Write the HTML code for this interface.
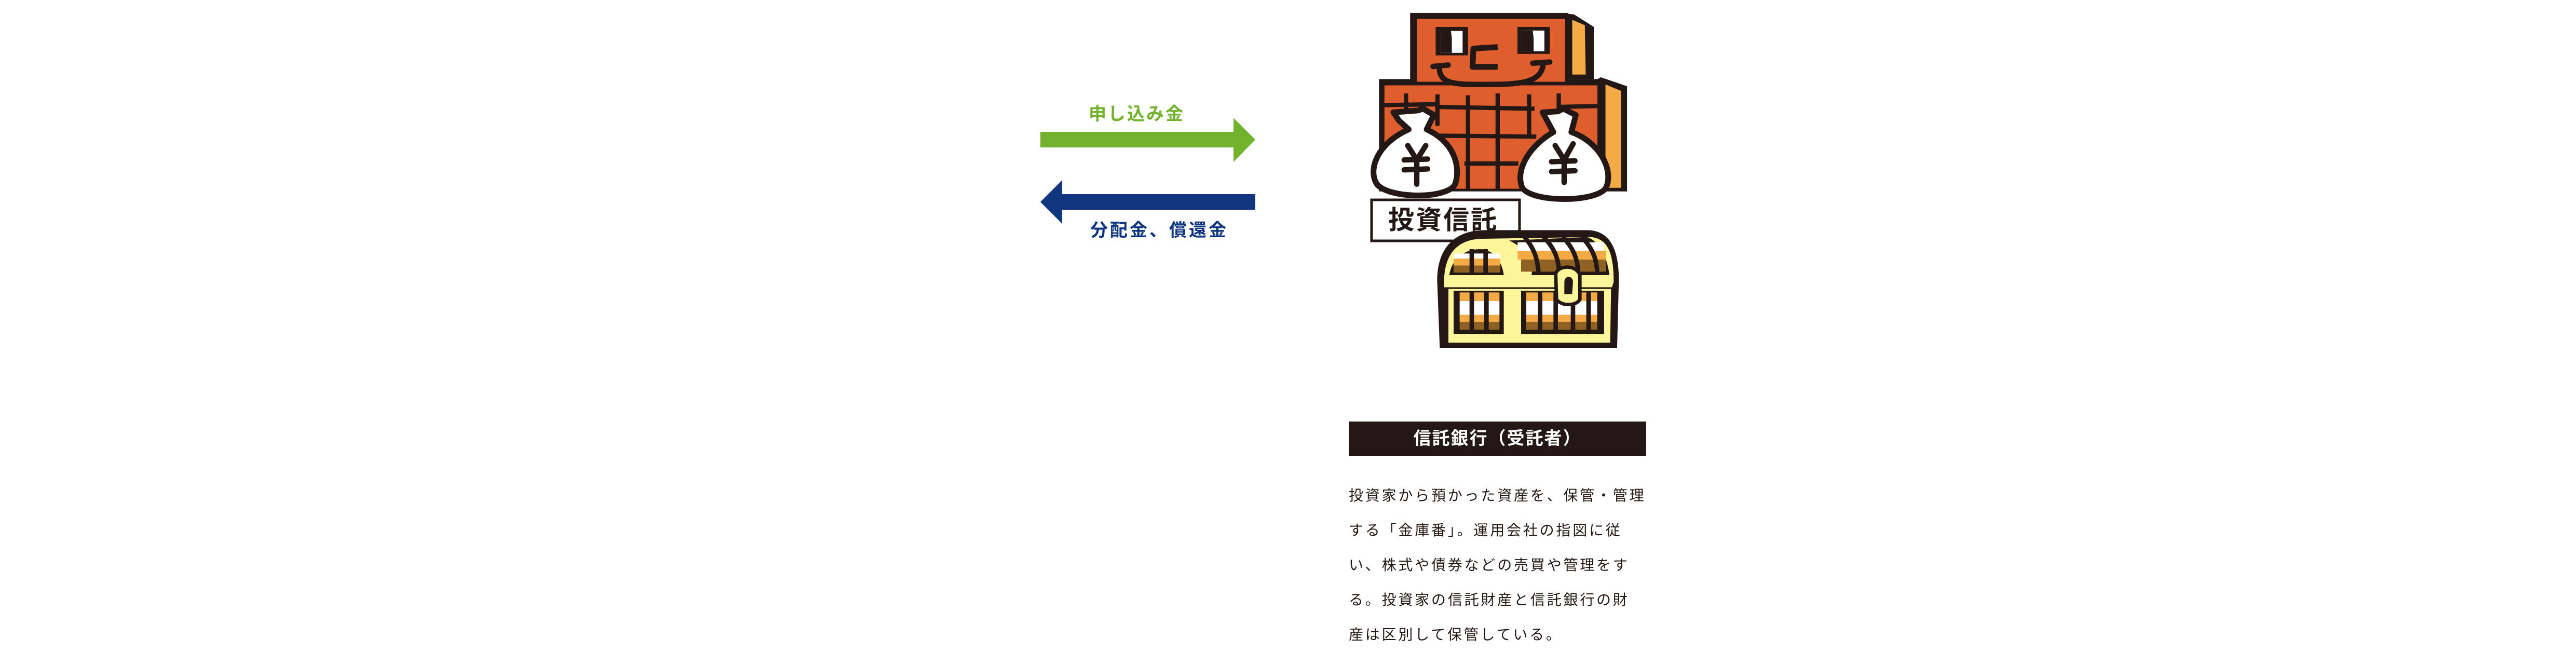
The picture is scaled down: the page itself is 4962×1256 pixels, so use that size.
<!DOCTYPE html>
<html><head><meta charset="utf-8"><style>
html,body{margin:0;padding:0;background:#fff;}
body{width:4962px;height:1232px;position:relative;overflow:hidden;font-family:"Liberation Sans","Noto Sans CJK JP",sans-serif;}
.t{position:absolute;white-space:nowrap;line-height:1;}
</style></head><body>
<svg width="4962" height="1232" style="position:absolute;left:0;top:0">
<polygon points="2004,254 2376,254 2376,227 2418,269 2376,312 2376,284 2004,284" fill="#72b22d"/>
<polygon points="2418,374 2046,374 2046,347 2004,389 2046,431 2046,404 2418,404" fill="#10367f"/>
<g transform="translate(2620,0) scale(0.3462)" stroke-linejoin="round">
<path d="M1140,75 L1190,80 L1300,150 L1300,440 L1140,440Z" fill="#231815"/>
<path d="M1180,110 L1250,140 L1255,415 L1180,415Z" fill="#f4aa45"/>
<path d="M1320,440 L1340,430 L1485,480 L1485,1065 L1320,1065Z" fill="#231815"/>
<path d="M1365,470 L1450,505 L1450,1045 L1365,1045Z" fill="#f4aa45"/>
<rect x="278" y="72" width="880" height="380" fill="#231815"/>
<rect x="105" y="440" width="1235" height="625" fill="#231815"/>
<rect x="315" y="105" width="825" height="350" fill="#df5e2e"/>
<rect x="135" y="475" width="1185" height="575" fill="#df5e2e"/>
<rect x="420" y="150" width="180" height="158" fill="#231815"/>
<rect x="445" y="172" width="125" height="122" fill="#fff"/>
<path d="M445,172 L505,172 L510,210 L510,294 L445,294Z" fill="#231815"/>
<rect x="875" y="150" width="180" height="150" fill="#231815"/>
<rect x="900" y="170" width="125" height="115" fill="#fff"/>
<path d="M900,170 L960,170 L965,210 L965,285 L900,285Z" fill="#231815"/>
<path d="M765,262 L630,270 L625,372 L765,372" fill="none" stroke="#231815" stroke-width="32"/>
<path d="M405,370 L490,362 M440,370 C440,470 520,470 700,470 C900,470 1010,460 1020,350 M960,352 L1055,345" fill="none" stroke="#231815" stroke-width="30" stroke-linecap="round"/>
<g stroke="#231815" stroke-width="24" fill="none">
<path d="M135,585 L420,580 M420,595 L970,605 M1100,595 L1320,590 M420,755 L980,760 M580,910 L880,910"/>
<path d="M255,520 L255,610 M430,525 L430,700 M600,530 L600,1050 M765,520 L765,1050 M940,525 L940,760 M1105,520 L1105,610"/>
</g>
<g fill="#fff" stroke="#231815" stroke-width="32">
<path d="M185,625 L320,615 L350,605 L410,640 L370,720 C520,790 560,920 530,1020 C500,1110 150,1110 90,1020 C40,930 110,790 270,720 L215,670Z"/>
<path d="M1015,625 L1100,620 L1130,605 L1200,640 L1175,735 C1330,790 1410,940 1370,1040 C1330,1130 940,1130 900,1040 C860,930 960,800 1075,735Z"/>
</g>
<g stroke="#231815" stroke-width="30" fill="none" stroke-linecap="round">
<path d="M265,810 L315,890 L365,810 M315,890 L315,1025 M245,890 L375,885 M245,945 L375,940"/>
<path d="M1085,810 L1135,890 L1185,800 M1135,890 L1135,1015 M1065,900 L1195,895 M1065,955 L1195,950"/>
</g>
</g>
<rect x="2642" y="385" width="285" height="79" fill="#fff" stroke="#231815" stroke-width="5"/>
<g transform="translate(2750,430) scale(0.3333)">
<path d="M55,330 C55,140 160,40 330,40 L920,40 C1060,40 1105,160 1105,330 L1095,720 L70,720Z" fill="#231815"/>
<path d="M95,340 C95,170 180,90 320,90 L930,80 C1050,80 1075,190 1075,340 L1065,370 L95,370Z" fill="#fdf59a"/>
<path d="M120,380 L1060,380 L1055,690 L120,690Z" fill="#fdf59a"/>
<path d="M470,100 C540,130 620,200 600,300 L1050,300 C1040,200 990,100 920,80Z" fill="#231815"/>
<path d="M125,300 C140,200 220,150 300,150 C380,150 430,220 440,300Z" fill="#231815"/>
<g>
<rect x="150" y="390" width="290" height="250" fill="#231815"/>
<rect x="540" y="390" width="480" height="250" fill="#231815"/>
<rect x="185" y="400" width="230" height="50" fill="#f4aa45"/><rect x="185" y="450" width="230" height="80" fill="#fff"/><rect x="185" y="530" width="230" height="40" fill="#f4aa45"/><rect x="185" y="570" width="230" height="45" fill="#8f6224"/>
<rect x="570" y="400" width="410" height="50" fill="#f4aa45"/><rect x="570" y="450" width="410" height="80" fill="#fff"/><rect x="570" y="530" width="410" height="40" fill="#f4aa45"/><rect x="570" y="570" width="410" height="45" fill="#8f6224"/>
<rect x="150" y="175" width="270" height="30" fill="#fff"/><rect x="150" y="205" width="270" height="40" fill="#f4aa45"/><rect x="150" y="245" width="270" height="40" fill="#8f6224"/>
<rect x="520" y="110" width="500" height="50" fill="#fff"/><rect x="520" y="160" width="510" height="50" fill="#f4aa45"/><rect x="540" y="210" width="490" height="70" fill="#8f6224"/>
<g stroke="#231815" stroke-width="26">
<path d="M255,390 L255,640 M340,390 L340,640 M255,150 L255,300 M335,150 L335,300 M650,390 L650,640 M740,390 L740,640 M840,390 L840,640 M930,390 L930,640"/>
<path d="M560,80 C620,150 640,220 640,300 M670,80 C740,150 760,220 760,300 M780,80 C850,150 870,220 870,300 M890,80 C960,150 980,220 980,300" fill="none"/>
</g>
</g>
<path d="M740,290 C760,240 860,240 880,300 L880,440 C860,480 770,480 745,440Z" fill="#fdf59a" stroke="#231815" stroke-width="20"/>
<path d="M790,340 C790,300 840,300 840,340 L835,410 L790,410Z" fill="#231815"/>
</g>
</svg>
<div class="t" style="left:2097px;top:203px;font-size:34px;font-weight:bold;color:#72b22d;letter-spacing:3px;">申し込み金</div>
<div class="t" style="left:2100px;top:427px;font-size:34px;font-weight:bold;color:#10367f;letter-spacing:4px;">分配金、償還金</div>
<div class="t" style="left:2674px;top:399px;font-size:50px;font-weight:bold;color:#231815;letter-spacing:3px;">投資信託</div>
<div style="position:absolute;left:2598px;top:812px;width:573px;height:66px;background:#231815;"></div>
<div class="t" style="left:2598px;top:828px;width:573px;text-align:center;font-size:34px;font-weight:bold;color:#fff;letter-spacing:2px;">信託銀行（受託者）</div>
<div style="position:absolute;left:2598px;top:921px;width:700px;white-space:nowrap;font-size:28px;line-height:67px;letter-spacing:3.8px;color:#231815;">投資家から預かった資産を、保管・管理<br>する「金庫番」。運用会社の指図に従<br>い、株式や債券などの売買や管理をす<br>る。投資家の信託財産と信託銀行の財<br>産は区別して保管している。</div>
</body></html>
